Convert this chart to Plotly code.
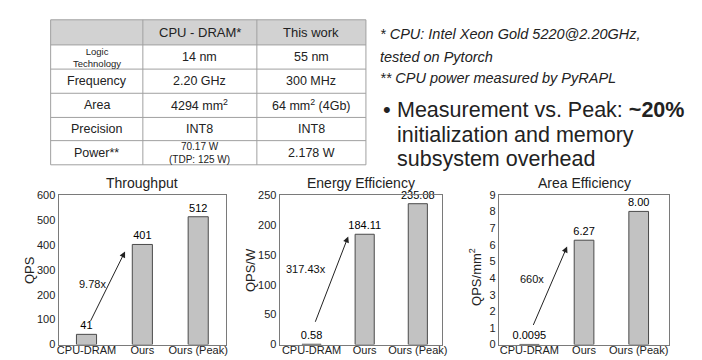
import plotly.graph_objects as go

W, H = 702, 360
def X(px): return px / W
def Y(py): return 1 - py / H

# ---------------- data ----------------
table_header = ["", "CPU - DRAM*", "This work"]
row_labels = ["Logic<br>Technology", "Frequency", "Area", "Precision", "Power**"]
cpu_values = ["14 nm", "2.20 GHz", "4294 mm<sup>2</sup>", "INT8", "70.17 W<br>(TDP: 125 W)"]
ours_values = ["55 nm", "300 MHz", "64 mm<sup>2</sup> (4Gb)", "INT8", "2.178 W"]

notes = ["* CPU: Intel Xeon Gold 5220@2.20GHz,", "tested on Pytorch", "** CPU power measured by PyRAPL"]
bullet_lines = ["Measurement vs. Peak: <b>~20%</b>", "initialization and memory", "subsystem overhead"]

categories = ["CPU-DRAM", "Ours", "Ours (Peak)"]
throughput = [41, 401, 512]
throughput_labels = ["41", "401", "512"]
energy_eff = [0.58, 184.11, 235.08]
energy_labels = ["0.58", "184.11", "235.08"]
area_eff = [0.0095, 6.27, 8.00]
area_labels = ["0.0095", "6.27", "8.00"]
speedups = ["9.78x", "317.43x", "660x"]
chart_titles = ["Throughput", "Energy Efficiency", "Area Efficiency"]
y_titles = ["QPS", "QPS/W", "QPS/mm<sup>2</sup>"]
y_max = [600, 250, 9]
y_dtick = [100, 50, 1]

FONT = "Liberation Sans, Arial, sans-serif"
TXT = "#222222"

fig = go.Figure()

# --------------- table ----------------
col_x = [42, 135, 250, 360]
row_y = [6, 32, 57, 82, 107, 131, 156]
shapes = []
shapes.append(dict(type="rect", xref="paper", yref="paper", x0=X(col_x[0]), x1=X(col_x[-1]),
                   y0=Y(row_y[1]), y1=Y(row_y[0]), fillcolor="#d2d2d2", line=dict(width=0), layer="below"))
for yy in row_y:
    shapes.append(dict(type="line", xref="paper", yref="paper", x0=X(col_x[0]), x1=X(col_x[-1]),
                       y0=Y(yy), y1=Y(yy), line=dict(color="#a0a0a0", width=1)))
for xx in col_x:
    shapes.append(dict(type="line", xref="paper", yref="paper", x0=X(xx), x1=X(xx),
                       y0=Y(row_y[0]), y1=Y(row_y[-1]), line=dict(color="#a0a0a0", width=1)))

annotations = []
def cell(text, ci, ri, size=12):
    cx = (col_x[ci] + col_x[ci + 1]) / 2
    cy = (row_y[ri] + row_y[ri + 1]) / 2
    annotations.append(dict(text=text, x=X(cx), y=Y(cy), xref="paper", yref="paper",
                            showarrow=False, xanchor="center", yanchor="middle",
                            font=dict(family=FONT, size=size, color=TXT)))

for ci, h in enumerate(table_header):
    if h:
        cell(h, ci, 0, 13)
for ri, (lab, cv, ov) in enumerate(zip(row_labels, cpu_values, ours_values)):
    cell(lab, 0, ri + 1, 9.5 if "<br>" in lab else 12.5)
    cell(cv, 1, ri + 1, 10 if "<br>" in cv else 12.5)
    cell(ov, 2, ri + 1, 12.5)

# --------------- notes -----------------
for t, py in zip(notes, [21, 44, 66]):
    annotations.append(dict(text="<i>" + t + "</i>", x=X(372), y=Y(py), xref="paper", yref="paper",
                            showarrow=False, xanchor="left", yanchor="middle",
                            font=dict(family=FONT, size=14.5, color=TXT)))
annotations.append(dict(text="•", x=X(375), y=Y(99), xref="paper", yref="paper", showarrow=False,
                        xanchor="left", yanchor="middle", font=dict(family=FONT, size=22, color=TXT)))
for t, py in zip(bullet_lines, [99, 125, 150]):
    annotations.append(dict(text=t, x=X(389), y=Y(py), xref="paper", yref="paper", showarrow=False,
                            xanchor="left", yanchor="middle", font=dict(family=FONT, size=21.5, color=TXT)))

# --------------- bar charts -------------
x_pos = [0, 1, 2]
series = [(throughput, throughput_labels), (energy_eff, energy_labels), (area_eff, area_labels)]
x_dom_px = [(50, 219), (273, 437), (494, 666)]
y_dom_px = (187, 342)
x_ranges = [[-0.5, 2.5], [-0.6, 2.46], [-0.56, 2.56]]
ytitle_px = [(20, 265), (243, 265), (470, 272)]
start_frac = [0.08, 0.14, 0.12]
tip_frac = [0.93, 0.98, 0.94]
lab_x = [0.11, -0.1, 0.04]
lab_dy = [0.02, 0.07, 0.05]

layout_axes = {}
for i in range(3):
    vals, labs = series[i]
    xa = "x" if i == 0 else f"x{i+1}"
    ya = "y" if i == 0 else f"y{i+1}"
    fig.add_trace(go.Bar(x=x_pos, y=vals, text=labs, textposition="outside", cliponaxis=False,
                         constraintext="none",
                         textfont=dict(family=FONT, size=11, color="#000"),
                         width=0.36, marker=dict(color="#c2c2c2", line=dict(color="#4a4a4a", width=1)),
                         xaxis=xa, yaxis=ya, showlegend=False, hoverinfo="skip"))
    xk = "xaxis" if i == 0 else f"xaxis{i+1}"
    yk = "yaxis" if i == 0 else f"yaxis{i+1}"
    layout_axes[xk] = dict(domain=[X(x_dom_px[i][0]), X(x_dom_px[i][1])], anchor=ya,
                           range=x_ranges[i], tickvals=x_pos, ticktext=categories,
                           showgrid=False, zeroline=False, showline=True, mirror=True,
                           linecolor="#7a7a7a", linewidth=1, ticks="", ticklabelstandoff=-5,
                           tickfont=dict(family=FONT, size=11, color=TXT))
    layout_axes[yk] = dict(domain=[Y(y_dom_px[1]), Y(y_dom_px[0])], anchor=xa,
                           range=[0, y_max[i]], dtick=y_dtick[i], showgrid=False, zeroline=False,
                           showline=True, mirror=True, linecolor="#7a7a7a", linewidth=1, ticks="",
                           tickfont=dict(family=FONT, size=11, color=TXT))
    cx = (x_dom_px[i][0] + x_dom_px[i][1]) / 2
    annotations.append(dict(text=chart_titles[i], x=X(cx), y=Y(175), xref="paper", yref="paper",
                            showarrow=False, xanchor="center", yanchor="middle",
                            font=dict(family=FONT, size=14, color=TXT)))
    annotations.append(dict(text=y_titles[i], x=X(ytitle_px[i][0]), y=Y(ytitle_px[i][1]), xref="paper",
                            yref="paper", showarrow=False, textangle=-90, xanchor="center",
                            yanchor="middle", font=dict(family=FONT, size=13, color=TXT)))
    # speed-up arrow
    y0 = vals[0] + start_frac[i] * y_max[i]
    y1 = vals[1] * tip_frac[i]
    annotations.append(dict(x=0.69, y=y1, ax=0.06, ay=y0, xref=xa, yref=ya, axref=xa, ayref=ya,
                            text="", showarrow=True, arrowhead=2, arrowsize=1.2, arrowwidth=1,
                            arrowcolor="#222"))
    annotations.append(dict(x=lab_x[i], y=(y0 + y1) / 2 + lab_dy[i] * y_max[i], xref=xa, yref=ya,
                            text=speedups[i], showarrow=False,
                            font=dict(family=FONT, size=11, color="#111")))

fig.update_layout(width=W, height=H, margin=dict(l=0, r=0, t=0, b=0),
                  paper_bgcolor="white", plot_bgcolor="white",
                  shapes=shapes, annotations=annotations, bargap=0.5, **layout_axes)

fig.write_html("out.html")
